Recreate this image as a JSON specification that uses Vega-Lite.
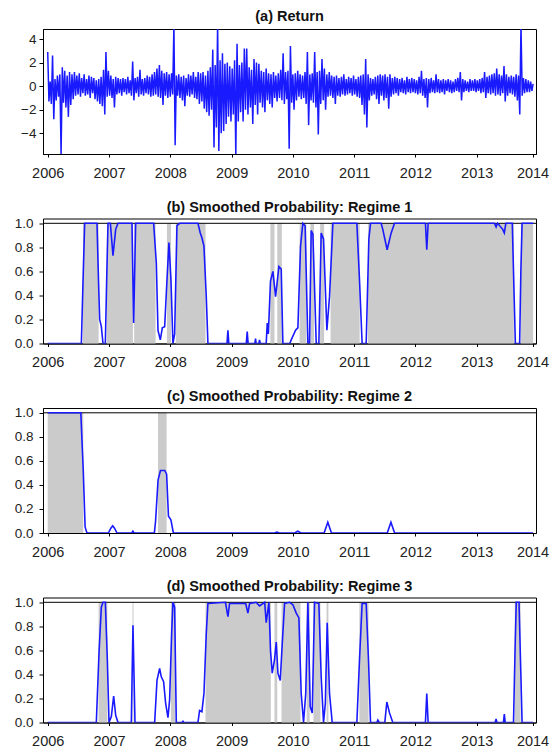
{
"$schema": "https://vega.github.io/schema/vega-lite/v6.json",
"padding": {"left": 13, "top": 8, "right": 5, "bottom": 0},
"background": "white",
"spacing": 64.5,
"bounds": "flush",
"config": {
 "font": "Liberation Sans",
 "view": {"stroke": "#000", "strokeWidth": 1},
 "axis": {"grid": false, "domainColor": "#000", "tickColor": "#000", "labelColor": "#222", "labelFont": "Liberation Sans", "domainWidth": 1, "tickWidth": 1},
 "axisX": {"labelFontSize": 14.5, "tickSize": 3, "labelPadding": 9},
 "axisY": {"labelFontSize": 13.5, "tickSize": 4, "labelPadding": 6},
 "title": {"fontSize": 14.5, "fontWeight": "bold", "font": "Liberation Sans", "color": "#111", "baseline": "alphabetic", "offset": 1, "anchor": "middle"}
},
"datasets": {
 "ret": [
{"t":2006.000,"r":2.9},{"t":2006.020,"r":-1.3},{"t":2006.040,"r":0.4},{"t":2006.059,"r":-1.5},{"t":2006.079,"r":2.6},{"t":2006.099,"r":-2.8},{"t":2006.119,"r":0.6},{"t":2006.139,"r":-1.2},{"t":2006.158,"r":0.9},{"t":2006.178,"r":-0.9},
{"t":2006.198,"r":1.0},{"t":2006.218,"r":-5.8},{"t":2006.238,"r":1.6},{"t":2006.257,"r":-1.4},{"t":2006.277,"r":1.3},{"t":2006.297,"r":-1.8},{"t":2006.317,"r":0.9},{"t":2006.337,"r":-2.6},{"t":2006.356,"r":1.2},{"t":2006.376,"r":-1.6},
{"t":2006.396,"r":1.0},{"t":2006.416,"r":-1.1},{"t":2006.436,"r":1.2},{"t":2006.455,"r":-0.8},{"t":2006.475,"r":0.9},{"t":2006.495,"r":-0.7},{"t":2006.515,"r":1.1},{"t":2006.535,"r":-0.9},{"t":2006.554,"r":0.7},{"t":2006.574,"r":-0.6},
{"t":2006.594,"r":1.0},{"t":2006.614,"r":-0.8},{"t":2006.634,"r":0.6},{"t":2006.653,"r":-0.7},{"t":2006.673,"r":0.9},{"t":2006.693,"r":-1.0},{"t":2006.713,"r":0.8},{"t":2006.733,"r":-0.6},{"t":2006.752,"r":0.7},{"t":2006.772,"r":-1.1},
{"t":2006.792,"r":0.5},{"t":2006.812,"r":-1.3},{"t":2006.832,"r":0.6},{"t":2006.851,"r":-1.5},{"t":2006.871,"r":0.8},{"t":2006.891,"r":-1.7},{"t":2006.911,"r":1.4},{"t":2006.931,"r":-2.4},{"t":2006.950,"r":2.9},{"t":2006.970,"r":-0.9},
{"t":2006.990,"r":1.3},{"t":2007.010,"r":-0.8},{"t":2007.030,"r":0.9},{"t":2007.049,"r":-1.0},{"t":2007.069,"r":0.6},{"t":2007.089,"r":-1.8},{"t":2007.109,"r":0.8},{"t":2007.129,"r":-0.7},{"t":2007.148,"r":0.7},{"t":2007.168,"r":-0.6},
{"t":2007.188,"r":0.6},{"t":2007.208,"r":-0.8},{"t":2007.228,"r":0.7},{"t":2007.247,"r":-0.5},{"t":2007.267,"r":0.6},{"t":2007.287,"r":-0.7},{"t":2007.307,"r":0.8},{"t":2007.327,"r":-0.6},{"t":2007.346,"r":0.5},{"t":2007.366,"r":-0.8},
{"t":2007.386,"r":2.1},{"t":2007.406,"r":-1.2},{"t":2007.426,"r":0.7},{"t":2007.445,"r":-0.6},{"t":2007.465,"r":0.8},{"t":2007.485,"r":-0.9},{"t":2007.505,"r":1.4},{"t":2007.525,"r":-0.7},{"t":2007.544,"r":0.6},{"t":2007.564,"r":-0.8},
{"t":2007.584,"r":0.7},{"t":2007.604,"r":-0.6},{"t":2007.624,"r":0.9},{"t":2007.643,"r":-0.7},{"t":2007.663,"r":0.8},{"t":2007.683,"r":-0.9},{"t":2007.703,"r":1.0},{"t":2007.723,"r":-0.8},{"t":2007.742,"r":1.2},{"t":2007.762,"r":-0.7},
{"t":2007.782,"r":1.5},{"t":2007.802,"r":-0.9},{"t":2007.822,"r":1.8},{"t":2007.841,"r":-1.0},{"t":2007.861,"r":1.3},{"t":2007.881,"r":-1.6},{"t":2007.901,"r":1.1},{"t":2007.921,"r":-0.8},{"t":2007.940,"r":1.2},{"t":2007.960,"r":-1.0},
{"t":2007.980,"r":1.0},{"t":2008.000,"r":-0.9},{"t":2008.020,"r":1.1},{"t":2008.039,"r":-0.7},{"t":2008.059,"r":5.2},{"t":2008.079,"r":-5.0},{"t":2008.099,"r":0.9},{"t":2008.119,"r":-0.8},{"t":2008.138,"r":1.0},{"t":2008.158,"r":-1.0},
{"t":2008.178,"r":0.8},{"t":2008.198,"r":-1.2},{"t":2008.218,"r":0.9},{"t":2008.237,"r":-1.7},{"t":2008.257,"r":0.7},{"t":2008.277,"r":-0.8},{"t":2008.297,"r":1.0},{"t":2008.317,"r":-0.9},{"t":2008.336,"r":0.9},{"t":2008.356,"r":-0.7},
{"t":2008.376,"r":1.2},{"t":2008.396,"r":-1.0},{"t":2008.416,"r":0.8},{"t":2008.435,"r":-1.1},{"t":2008.455,"r":1.2},{"t":2008.475,"r":-1.5},{"t":2008.495,"r":1.1},{"t":2008.515,"r":-1.3},{"t":2008.534,"r":1.2},{"t":2008.554,"r":-1.9},
{"t":2008.574,"r":0.9},{"t":2008.594,"r":-2.2},{"t":2008.614,"r":1.3},{"t":2008.633,"r":-2.5},{"t":2008.653,"r":1.6},{"t":2008.673,"r":-2.0},{"t":2008.693,"r":3.1},{"t":2008.713,"r":-5.2},{"t":2008.732,"r":1.8},{"t":2008.752,"r":-3.5},
{"t":2008.772,"r":5.2},{"t":2008.792,"r":-5.5},{"t":2008.812,"r":2.2},{"t":2008.831,"r":-4.0},{"t":2008.851,"r":2.8},{"t":2008.871,"r":-3.8},{"t":2008.891,"r":1.9},{"t":2008.911,"r":-3.2},{"t":2008.930,"r":2.0},{"t":2008.950,"r":-2.6},
{"t":2008.970,"r":1.7},{"t":2008.990,"r":-3.0},{"t":2009.010,"r":1.5},{"t":2009.029,"r":-2.4},{"t":2009.049,"r":2.2},{"t":2009.069,"r":-5.8},{"t":2009.089,"r":3.6},{"t":2009.109,"r":-3.0},{"t":2009.128,"r":1.8},{"t":2009.148,"r":-2.2},
{"t":2009.168,"r":2.0},{"t":2009.188,"r":-3.0},{"t":2009.208,"r":3.2},{"t":2009.227,"r":-2.0},{"t":2009.247,"r":3.2},{"t":2009.267,"r":-2.4},{"t":2009.287,"r":1.6},{"t":2009.307,"r":-1.8},{"t":2009.326,"r":1.4},{"t":2009.346,"r":-3.2},
{"t":2009.366,"r":2.3},{"t":2009.386,"r":-1.6},{"t":2009.406,"r":2.0},{"t":2009.425,"r":-2.4},{"t":2009.445,"r":1.9},{"t":2009.465,"r":-1.4},{"t":2009.485,"r":1.3},{"t":2009.505,"r":-1.8},{"t":2009.524,"r":1.2},{"t":2009.544,"r":-2.2},
{"t":2009.564,"r":1.5},{"t":2009.584,"r":-1.2},{"t":2009.604,"r":1.1},{"t":2009.623,"r":-1.5},{"t":2009.643,"r":1.0},{"t":2009.663,"r":-1.8},{"t":2009.683,"r":1.2},{"t":2009.703,"r":-1.0},{"t":2009.722,"r":0.9},{"t":2009.742,"r":-1.3},
{"t":2009.762,"r":1.1},{"t":2009.782,"r":-1.0},{"t":2009.802,"r":1.4},{"t":2009.821,"r":-1.2},{"t":2009.841,"r":2.8},{"t":2009.861,"r":-1.5},{"t":2009.881,"r":1.2},{"t":2009.901,"r":-1.1},{"t":2009.920,"r":1.3},{"t":2009.940,"r":-5.3},
{"t":2009.960,"r":3.4},{"t":2009.980,"r":-1.4},{"t":2010.000,"r":1.0},{"t":2010.019,"r":-2.0},{"t":2010.039,"r":1.1},{"t":2010.059,"r":-1.2},{"t":2010.079,"r":1.3},{"t":2010.099,"r":-0.9},{"t":2010.118,"r":1.0},{"t":2010.138,"r":-1.1},
{"t":2010.158,"r":0.9},{"t":2010.178,"r":-1.0},{"t":2010.198,"r":1.2},{"t":2010.217,"r":-1.5},{"t":2010.237,"r":2.9},{"t":2010.257,"r":-3.3},{"t":2010.277,"r":1.0},{"t":2010.297,"r":-1.2},{"t":2010.316,"r":1.1},{"t":2010.336,"r":-1.4},
{"t":2010.356,"r":2.9},{"t":2010.376,"r":-1.8},{"t":2010.396,"r":1.2},{"t":2010.415,"r":-4.1},{"t":2010.435,"r":1.3},{"t":2010.455,"r":-1.5},{"t":2010.475,"r":2.3},{"t":2010.495,"r":-1.2},{"t":2010.514,"r":1.5},{"t":2010.534,"r":-2.0},
{"t":2010.554,"r":1.0},{"t":2010.574,"r":-0.9},{"t":2010.594,"r":1.2},{"t":2010.613,"r":-0.8},{"t":2010.633,"r":0.9},{"t":2010.653,"r":-1.0},{"t":2010.673,"r":0.8},{"t":2010.693,"r":-1.5},{"t":2010.712,"r":0.9},{"t":2010.732,"r":-0.8},
{"t":2010.752,"r":0.7},{"t":2010.772,"r":-0.9},{"t":2010.792,"r":0.8},{"t":2010.811,"r":-0.7},{"t":2010.831,"r":1.0},{"t":2010.851,"r":-0.8},{"t":2010.871,"r":0.6},{"t":2010.891,"r":-0.7},{"t":2010.910,"r":0.8},{"t":2010.930,"r":-0.6},
{"t":2010.950,"r":0.7},{"t":2010.970,"r":-0.8},{"t":2010.990,"r":0.9},{"t":2011.009,"r":-0.7},{"t":2011.029,"r":0.6},{"t":2011.049,"r":-0.9},{"t":2011.069,"r":0.8},{"t":2011.089,"r":-1.0},{"t":2011.108,"r":0.9},{"t":2011.128,"r":-1.6},
{"t":2011.148,"r":1.0},{"t":2011.168,"r":-2.4},{"t":2011.188,"r":2.3},{"t":2011.207,"r":-3.5},{"t":2011.227,"r":1.0},{"t":2011.247,"r":-1.2},{"t":2011.267,"r":0.7},{"t":2011.287,"r":-0.8},{"t":2011.306,"r":0.6},{"t":2011.326,"r":-0.7},
{"t":2011.346,"r":0.8},{"t":2011.366,"r":-1.1},{"t":2011.386,"r":0.9},{"t":2011.405,"r":-1.5},{"t":2011.425,"r":1.0},{"t":2011.445,"r":-0.8},{"t":2011.465,"r":0.9},{"t":2011.485,"r":-1.2},{"t":2011.504,"r":1.0},{"t":2011.524,"r":-1.0},
{"t":2011.544,"r":0.8},{"t":2011.564,"r":-1.9},{"t":2011.584,"r":1.0},{"t":2011.603,"r":-0.9},{"t":2011.623,"r":0.7},{"t":2011.643,"r":-0.7},{"t":2011.663,"r":0.8},{"t":2011.683,"r":-0.6},{"t":2011.702,"r":0.7},{"t":2011.722,"r":-0.8},
{"t":2011.742,"r":0.6},{"t":2011.762,"r":-0.5},{"t":2011.782,"r":0.7},{"t":2011.801,"r":-0.6},{"t":2011.821,"r":0.5},{"t":2011.841,"r":-0.7},{"t":2011.861,"r":0.8},{"t":2011.881,"r":-0.5},{"t":2011.900,"r":0.6},{"t":2011.920,"r":-0.6},
{"t":2011.940,"r":0.7},{"t":2011.960,"r":-0.5},{"t":2011.980,"r":0.6},{"t":2011.999,"r":-0.6},{"t":2012.019,"r":0.5},{"t":2012.039,"r":-0.7},{"t":2012.059,"r":0.8},{"t":2012.079,"r":-0.6},{"t":2012.098,"r":1.3},{"t":2012.118,"r":-0.8},
{"t":2012.138,"r":0.6},{"t":2012.158,"r":-1.0},{"t":2012.178,"r":0.7},{"t":2012.197,"r":-1.8},{"t":2012.217,"r":0.6},{"t":2012.237,"r":-0.6},{"t":2012.257,"r":0.7},{"t":2012.277,"r":-0.5},{"t":2012.296,"r":0.5},{"t":2012.316,"r":-0.6},
{"t":2012.336,"r":1.0},{"t":2012.356,"r":-0.5},{"t":2012.376,"r":0.6},{"t":2012.395,"r":-0.6},{"t":2012.415,"r":0.5},{"t":2012.435,"r":-0.5},{"t":2012.455,"r":0.6},{"t":2012.475,"r":-0.7},{"t":2012.494,"r":0.5},{"t":2012.514,"r":-0.4},
{"t":2012.534,"r":0.6},{"t":2012.554,"r":-0.5},{"t":2012.574,"r":0.5},{"t":2012.593,"r":-0.6},{"t":2012.613,"r":0.4},{"t":2012.633,"r":-0.5},{"t":2012.653,"r":0.6},{"t":2012.673,"r":-0.4},{"t":2012.692,"r":0.7},{"t":2012.712,"r":-0.5},
{"t":2012.732,"r":1.2},{"t":2012.752,"r":-1.2},{"t":2012.772,"r":0.6},{"t":2012.791,"r":-0.5},{"t":2012.811,"r":0.5},{"t":2012.831,"r":-0.4},{"t":2012.851,"r":0.4},{"t":2012.871,"r":-0.5},{"t":2012.890,"r":0.6},{"t":2012.910,"r":-0.4},
{"t":2012.930,"r":0.5},{"t":2012.950,"r":-0.4},{"t":2012.970,"r":0.6},{"t":2012.989,"r":-0.5},{"t":2013.009,"r":0.5},{"t":2013.029,"r":-0.4},{"t":2013.049,"r":0.6},{"t":2013.069,"r":-0.6},{"t":2013.088,"r":0.7},{"t":2013.108,"r":-0.5},
{"t":2013.128,"r":1.2},{"t":2013.148,"r":-1.0},{"t":2013.168,"r":0.8},{"t":2013.187,"r":-0.6},{"t":2013.207,"r":0.9},{"t":2013.227,"r":-0.7},{"t":2013.247,"r":1.0},{"t":2013.267,"r":-0.6},{"t":2013.286,"r":1.1},{"t":2013.306,"r":-0.8},
{"t":2013.326,"r":1.5},{"t":2013.346,"r":-0.7},{"t":2013.366,"r":1.0},{"t":2013.385,"r":-0.8},{"t":2013.405,"r":0.9},{"t":2013.425,"r":-0.6},{"t":2013.445,"r":1.7},{"t":2013.465,"r":-1.3},{"t":2013.484,"r":1.0},{"t":2013.504,"r":-0.8},
{"t":2013.524,"r":0.8},{"t":2013.544,"r":-0.6},{"t":2013.564,"r":0.9},{"t":2013.583,"r":-0.7},{"t":2013.603,"r":0.8},{"t":2013.623,"r":-0.9},{"t":2013.643,"r":1.0},{"t":2013.663,"r":-1.2},{"t":2013.682,"r":0.9},{"t":2013.702,"r":-2.4},
{"t":2013.722,"r":5.2},{"t":2013.742,"r":-0.8},{"t":2013.762,"r":0.7},{"t":2013.781,"r":-0.6},{"t":2013.801,"r":0.6},{"t":2013.821,"r":-0.5},{"t":2013.841,"r":0.5},{"t":2013.861,"r":-0.5},{"t":2013.880,"r":0.4},{"t":2013.900,"r":-0.4},
{"t":2013.920,"r":0.2}
 ],
 "p1": [
{"t":2006.0,"p":0},{"t":2006.549,"p":0},{"t":2006.575,"p":0.5},{"t":2006.603,"p":1},{"t":2006.804,"p":1},{"t":2006.83,"p":0.5},{"t":2006.848,"p":0.2},{"t":2006.875,"p":0.14},{"t":2006.902,"p":0},{"t":2006.94,"p":0},{"t":2006.965,"p":0.6},{"t":2006.984,"p":1},{"t":2007.022,"p":1},{"t":2007.065,"p":0.73},{"t":2007.109,"p":0.95},{"t":2007.147,"p":1},{"t":2007.375,"p":1},{"t":2007.402,"p":0.17},{"t":2007.435,"p":1},{"t":2007.728,"p":1},{"t":2007.772,"p":0.67},{"t":2007.799,"p":0.11},{"t":2007.837,"p":0.03},{"t":2007.87,"p":0.13},{"t":2007.908,"p":0.14},{"t":2007.946,"p":0.53},{"t":2007.978,"p":0.84},{"t":2008.011,"p":0.53},{"t":2008.043,"p":0},{"t":2008.071,"p":0.08},{"t":2008.109,"p":0.98},{"t":2008.152,"p":1},{"t":2008.451,"p":1},{"t":2008.489,"p":0.92},{"t":2008.516,"p":0.88},{"t":2008.549,"p":0.81},{"t":2008.587,"p":0.39},{"t":2008.614,"p":0},{"t":2008.925,"p":0},{"t":2008.94,"p":0.11},{"t":2008.955,"p":0},{"t":2009.24,"p":0},{"t":2009.255,"p":0.1},{"t":2009.27,"p":0},{"t":2009.38,"p":0},{"t":2009.391,"p":0.04},{"t":2009.40,"p":0},{"t":2009.445,"p":0},{"t":2009.456,"p":0.03},{"t":2009.467,"p":0},{"t":2009.565,"p":0},{"t":2009.582,"p":0.17},{"t":2009.60,"p":0.08},{"t":2009.635,"p":0.52},{"t":2009.674,"p":0.6},{"t":2009.718,"p":0.39},{"t":2009.772,"p":0.64},{"t":2009.81,"p":0.62},{"t":2009.837,"p":0},{"t":2009.95,"p":0},{"t":2009.973,"p":0.03},{"t":2010.044,"p":0.11},{"t":2010.082,"p":0.13},{"t":2010.125,"p":0.81},{"t":2010.163,"p":1},{"t":2010.2,"p":0.98},{"t":2010.245,"p":0},{"t":2010.272,"p":0},{"t":2010.299,"p":0.94},{"t":2010.327,"p":0.91},{"t":2010.381,"p":0},{"t":2010.424,"p":0},{"t":2010.462,"p":0.92},{"t":2010.5,"p":0.87},{"t":2010.555,"p":0.11},{"t":2010.598,"p":0.39},{"t":2010.653,"p":1},{"t":2011.044,"p":1},{"t":2011.087,"p":0.53},{"t":2011.13,"p":0},{"t":2011.196,"p":0},{"t":2011.24,"p":0.87},{"t":2011.267,"p":1},{"t":2011.44,"p":1},{"t":2011.467,"p":0.95},{"t":2011.538,"p":0.78},{"t":2011.604,"p":0.92},{"t":2011.658,"p":1},{"t":2012.163,"p":1},{"t":2012.185,"p":0.78},{"t":2012.207,"p":1},{"t":2013.29,"p":1},{"t":2013.316,"p":0.97},{"t":2013.34,"p":1},{"t":2013.424,"p":0.95},{"t":2013.45,"p":0.92},{"t":2013.475,"p":1},{"t":2013.58,"p":1},{"t":2013.605,"p":0.5},{"t":2013.63,"p":0},{"t":2013.70,"p":0},{"t":2013.72,"p":0.6},{"t":2013.74,"p":1},{"t":2013.92,"p":1}
 ],
 "p2": [
{"t":2006.0,"p":1},{"t":2006.54,"p":1},{"t":2006.58,"p":0.52},{"t":2006.61,"p":0.05},{"t":2006.64,"p":0},{"t":2006.99,"p":0},{"t":2007.03,"p":0.04},{"t":2007.06,"p":0.06},{"t":2007.09,"p":0.04},{"t":2007.13,"p":0},{"t":2007.37,"p":0},{"t":2007.39,"p":0.015},{"t":2007.41,"p":0},{"t":2007.74,"p":0},{"t":2007.76,"p":0.1},{"t":2007.80,"p":0.44},{"t":2007.84,"p":0.52},{"t":2007.91,"p":0.52},{"t":2007.94,"p":0.49},{"t":2007.97,"p":0.14},{"t":2008.01,"p":0.11},{"t":2008.05,"p":0},{"t":2009.7,"p":0},{"t":2009.74,"p":0.008},{"t":2009.78,"p":0},{"t":2010.03,"p":0},{"t":2010.08,"p":0.015},{"t":2010.13,"p":0},{"t":2010.51,"p":0},{"t":2010.57,"p":0.09},{"t":2010.63,"p":0},{"t":2011.54,"p":0},{"t":2011.60,"p":0.09},{"t":2011.66,"p":0},{"t":2013.92,"p":0}
 ],
 "p3": [
{"t":2006.0,"p":0},{"t":2006.793,"p":0},{"t":2006.837,"p":0.58},{"t":2006.875,"p":0.96},{"t":2006.902,"p":1},{"t":2006.94,"p":1},{"t":2006.973,"p":0.52},{"t":2007.0,"p":0},{"t":2007.038,"p":0.05},{"t":2007.076,"p":0.22},{"t":2007.109,"p":0.06},{"t":2007.147,"p":0},{"t":2007.364,"p":0},{"t":2007.391,"p":0.81},{"t":2007.424,"p":0},{"t":2007.745,"p":0},{"t":2007.783,"p":0.35},{"t":2007.826,"p":0.45},{"t":2007.853,"p":0.38},{"t":2007.891,"p":0.34},{"t":2007.924,"p":0.16},{"t":2007.962,"p":0.04},{"t":2007.989,"p":0.19},{"t":2008.022,"p":0.74},{"t":2008.043,"p":1},{"t":2008.071,"p":0.96},{"t":2008.098,"p":0},{"t":2008.19,"p":0},{"t":2008.207,"p":0.01},{"t":2008.22,"p":0},{"t":2008.451,"p":0},{"t":2008.478,"p":0.1},{"t":2008.516,"p":0.09},{"t":2008.549,"p":0.24},{"t":2008.587,"p":0.74},{"t":2008.614,"p":0.99},{"t":2008.9,"p":1},{"t":2008.94,"p":0.88},{"t":2008.967,"p":0.99},{"t":2009.23,"p":0.99},{"t":2009.266,"p":0.91},{"t":2009.294,"p":0.99},{"t":2009.4,"p":1},{"t":2009.456,"p":0.97},{"t":2009.54,"p":1},{"t":2009.565,"p":0.83},{"t":2009.609,"p":1},{"t":2009.635,"p":0.6},{"t":2009.663,"p":0.41},{"t":2009.70,"p":0.52},{"t":2009.729,"p":0.67},{"t":2009.756,"p":0.41},{"t":2009.794,"p":0.35},{"t":2009.827,"p":0.66},{"t":2009.865,"p":0.99},{"t":2009.946,"p":1},{"t":2010.0,"p":0.98},{"t":2010.055,"p":0.91},{"t":2010.098,"p":0.87},{"t":2010.136,"p":0.24},{"t":2010.174,"p":0},{"t":2010.21,"p":0.24},{"t":2010.245,"p":1},{"t":2010.283,"p":0.13},{"t":2010.316,"p":0.08},{"t":2010.354,"p":1},{"t":2010.424,"p":0.99},{"t":2010.462,"p":0.38},{"t":2010.5,"p":0},{"t":2010.53,"p":0.16},{"t":2010.56,"p":0.83},{"t":2010.598,"p":0.24},{"t":2010.642,"p":0},{"t":2011.044,"p":0},{"t":2011.087,"p":0.52},{"t":2011.13,"p":0.99},{"t":2011.196,"p":0.99},{"t":2011.234,"p":0.52},{"t":2011.267,"p":0},{"t":2011.37,"p":0},{"t":2011.386,"p":0.02},{"t":2011.41,"p":0},{"t":2011.5,"p":0},{"t":2011.533,"p":0.17},{"t":2011.577,"p":0.08},{"t":2011.63,"p":0},{"t":2012.163,"p":0},{"t":2012.185,"p":0.24},{"t":2012.207,"p":0},{"t":2013.30,"p":0},{"t":2013.316,"p":0.03},{"t":2013.33,"p":0},{"t":2013.435,"p":0},{"t":2013.45,"p":0.07},{"t":2013.465,"p":0},{"t":2013.60,"p":0},{"t":2013.625,"p":0.6},{"t":2013.645,"p":1},{"t":2013.69,"p":1},{"t":2013.715,"p":0.5},{"t":2013.74,"p":0},{"t":2013.92,"p":0}
 ],
 "s1": [
{"s":2006.575,"e":2006.83},{"s":2006.965,"e":2007.39},{"s":2007.41,"e":2007.76},{"s":2007.945,"e":2008.012},{"s":2008.09,"e":2008.575},{"s":2009.633,"e":2009.70},{"s":2009.745,"e":2009.82},{"s":2010.11,"e":2010.22},{"s":2010.285,"e":2010.345},{"s":2010.445,"e":2010.51},{"s":2010.615,"e":2011.09},{"s":2011.225,"e":2013.605},{"s":2013.72,"e":2013.92}
 ],
 "s2": [
{"s":2006.0,"e":2006.58},{"s":2007.80,"e":2007.94}
 ],
 "s3": [
{"s":2006.83,"e":2006.973},{"s":2007.383,"e":2007.40},{"s":2008.01,"e":2008.085},{"s":2008.575,"e":2009.64},{"s":2009.70,"e":2009.745},{"s":2009.815,"e":2010.125},{"s":2010.225,"e":2010.275},{"s":2010.335,"e":2010.45},{"s":2010.55,"e":2010.58},{"s":2011.085,"e":2011.235},{"s":2013.62,"e":2013.715}
 ],
 "one": [{"h":1}]
},
"vconcat": [
 {
  "title": {"text": "(a) Return", "offset": 5},
  "width": 493, "height": 125,
  "data": {"name": "ret"},
  "mark": {"type": "line", "color": "#1a1aff", "strokeWidth": 1.5, "clip": true},
  "encoding": {
   "x": {"field": "t", "type": "quantitative", "title": null, "scale": {"domain": [2005.923, 2013.967], "nice": false, "zero": false}, "axis": {"values": [2006,2007,2008,2009,2010,2011,2012,2013,2013.91], "labelExpr": "round(datum.value)", "labelFlush": false}},
   "y": {"field": "r", "type": "quantitative", "title": null, "scale": {"domain": [-5.75, 4.85], "nice": false, "zero": false}, "axis": {"values": [-4,-2,0,2,4], "labelPadding": 3}}
  }
 },
 {
  "title": "(b) Smoothed Probability: Regime 1",
  "width": 493, "height": 125,
  "layer": [
   {"data": {"name": "s1"}, "mark": {"type": "rect", "color": "#cbcbcb"},
    "encoding": {"x": {"field": "s", "type": "quantitative", "title": null, "scale": {"domain": [2005.923, 2013.967], "nice": false, "zero": false}, "axis": {"values": [2006,2007,2008,2009,2010,2011,2012,2013,2013.91], "labelExpr": "round(datum.value)", "labelFlush": false}}, "x2": {"field": "e"},
     "y": {"datum": 0, "type": "quantitative", "title": null, "scale": {"domain": [0, 1.04], "nice": false}, "axis": {"values": [0,0.2,0.4,0.6,0.8,1], "format": ".1f"}}, "y2": {"datum": 1}}},
   {"data": {"name": "one"}, "mark": {"type": "rule", "color": "#000", "strokeWidth": 1},
    "encoding": {"y": {"field": "h", "type": "quantitative", "title": null, "scale": {"domain": [0, 1.04], "nice": false}, "axis": {"values": [0,0.2,0.4,0.6,0.8,1], "format": ".1f"}}}},
   {"data": {"name": "p1"}, "mark": {"type": "line", "color": "#1a1aff", "strokeWidth": 1.6, "clip": true},
    "encoding": {
     "x": {"field": "t", "type": "quantitative", "title": null, "scale": {"domain": [2005.923, 2013.967], "nice": false, "zero": false}, "axis": {"values": [2006,2007,2008,2009,2010,2011,2012,2013,2013.91], "labelExpr": "round(datum.value)", "labelFlush": false}},
     "y": {"field": "p", "type": "quantitative", "title": null, "scale": {"domain": [0, 1.04], "nice": false}, "axis": {"values": [0,0.2,0.4,0.6,0.8,1], "format": ".1f"}}
    }}
  ]
 },
 {
  "title": "(c) Smoothed Probability: Regime 2",
  "width": 493, "height": 125,
  "layer": [
   {"data": {"name": "s2"}, "mark": {"type": "rect", "color": "#cbcbcb"},
    "encoding": {"x": {"field": "s", "type": "quantitative", "title": null, "scale": {"domain": [2005.923, 2013.967], "nice": false, "zero": false}, "axis": {"values": [2006,2007,2008,2009,2010,2011,2012,2013,2013.91], "labelExpr": "round(datum.value)", "labelFlush": false}}, "x2": {"field": "e"},
     "y": {"datum": 0, "type": "quantitative", "title": null, "scale": {"domain": [0, 1.04], "nice": false}, "axis": {"values": [0,0.2,0.4,0.6,0.8,1], "format": ".1f"}}, "y2": {"datum": 1}}},
   {"data": {"name": "one"}, "mark": {"type": "rule", "color": "#000", "strokeWidth": 1},
    "encoding": {"y": {"field": "h", "type": "quantitative", "title": null, "scale": {"domain": [0, 1.04], "nice": false}, "axis": {"values": [0,0.2,0.4,0.6,0.8,1], "format": ".1f"}}}},
   {"data": {"name": "p2"}, "mark": {"type": "line", "color": "#1a1aff", "strokeWidth": 1.6, "clip": true},
    "encoding": {
     "x": {"field": "t", "type": "quantitative", "title": null, "scale": {"domain": [2005.923, 2013.967], "nice": false, "zero": false}, "axis": {"values": [2006,2007,2008,2009,2010,2011,2012,2013,2013.91], "labelExpr": "round(datum.value)", "labelFlush": false}},
     "y": {"field": "p", "type": "quantitative", "title": null, "scale": {"domain": [0, 1.04], "nice": false}, "axis": {"values": [0,0.2,0.4,0.6,0.8,1], "format": ".1f"}}
    }}
  ]
 },
 {
  "title": "(d) Smoothed Probability: Regime 3",
  "width": 493, "height": 125,
  "layer": [
   {"data": {"name": "s3"}, "mark": {"type": "rect", "color": "#cbcbcb"},
    "encoding": {"x": {"field": "s", "type": "quantitative", "title": null, "scale": {"domain": [2005.923, 2013.967], "nice": false, "zero": false}, "axis": {"values": [2006,2007,2008,2009,2010,2011,2012,2013,2013.91], "labelExpr": "round(datum.value)", "labelFlush": false}}, "x2": {"field": "e"},
     "y": {"datum": 0, "type": "quantitative", "title": null, "scale": {"domain": [0, 1.04], "nice": false}, "axis": {"values": [0,0.2,0.4,0.6,0.8,1], "format": ".1f"}}, "y2": {"datum": 1}}},
   {"data": {"name": "one"}, "mark": {"type": "rule", "color": "#000", "strokeWidth": 1},
    "encoding": {"y": {"field": "h", "type": "quantitative", "title": null, "scale": {"domain": [0, 1.04], "nice": false}, "axis": {"values": [0,0.2,0.4,0.6,0.8,1], "format": ".1f"}}}},
   {"data": {"name": "p3"}, "mark": {"type": "line", "color": "#1a1aff", "strokeWidth": 1.6, "clip": true},
    "encoding": {
     "x": {"field": "t", "type": "quantitative", "title": null, "scale": {"domain": [2005.923, 2013.967], "nice": false, "zero": false}, "axis": {"values": [2006,2007,2008,2009,2010,2011,2012,2013,2013.91], "labelExpr": "round(datum.value)", "labelFlush": false}},
     "y": {"field": "p", "type": "quantitative", "title": null, "scale": {"domain": [0, 1.04], "nice": false}, "axis": {"values": [0,0.2,0.4,0.6,0.8,1], "format": ".1f"}}
    }}
  ]
 }
]
}
